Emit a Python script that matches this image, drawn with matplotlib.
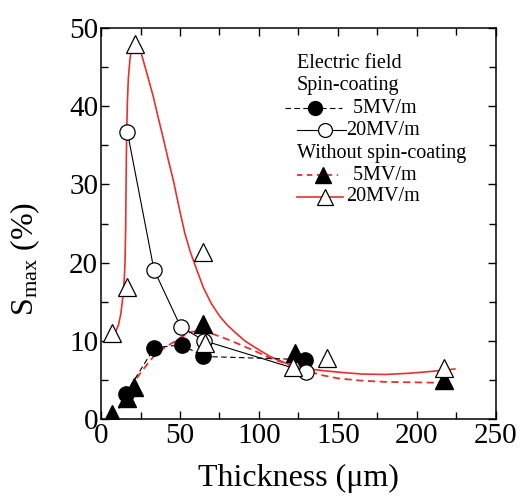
import matplotlib
matplotlib.use("Agg")
import matplotlib.pyplot as plt
from matplotlib.ticker import MultipleLocator

plt.rcParams['font.family'] = ['Liberation Serif', 'DejaVu Serif']
plt.rcParams['mathtext.fontset'] = 'custom'
plt.rcParams['mathtext.rm'] = 'Liberation Serif'
plt.rcParams['mathtext.it'] = 'Liberation Serif:italic'

# ---- data ----
sc5_x = [15.5, 33.7, 51.1, 64.8, 129]
sc5_y = [3.2, 9.1, 9.5, 8.0, 7.6]
sc20_x = [16.7, 33.5, 50.4, 65.5, 130]
sc20_y = [36.7, 19.1, 11.8, 10.0, 6.0]
wo5_x = [6.8, 16.5, 21, 64.8, 122.5, 217]
wo5_y = [0.6, 2.7, 4.1, 12.2, 8.4, 5.0]
wo20_x = [6.8, 16.7, 21.5, 64.8, 65.8, 121.5, 143, 217]
wo20_y = [11.0, 16.9, 48.0, 21.4, 9.7, 6.7, 7.8, 6.5]

# fitted curves
fit20_x = [7, 9, 11, 12.5, 14, 14.8, 15.2, 15.6, 16.0, 16.3, 16.7, 17.3, 18.4, 19.4,
           20.5, 21.5, 22.6, 23.6, 25.7, 27.5, 30, 33, 36, 39.4, 42.5, 45.8, 50, 53,
           56.3, 59.5, 64.8, 70, 75.3, 80, 85.9, 91, 96.4, 102, 107, 117.5, 128, 140,
           150, 165, 180, 195, 210, 224]
fit20_y = [11.0, 11.1, 12.0, 13.4, 15.9, 18.2, 20.2, 24.4, 32.9, 37.2, 40.6, 43.6,
           46.2, 47.3, 47.8, 47.9, 47.9, 47.7, 46.6, 45.3, 43.5, 41.3, 38.7, 35.9,
           33.2, 30.5, 26.5, 23.8, 21.5, 19.7, 16.8, 14.7, 13.1, 12.0, 10.9, 10.0,
           9.3, 8.6, 8.0, 7.1, 6.5, 6.2, 6.0, 5.75, 5.7, 5.85, 6.1, 6.4]
fit5_x = [7, 10, 14, 19, 24.7, 30, 35, 40, 45.8, 51, 56.3, 62, 69, 77.4, 85.9,
          98.5, 107, 119.6, 128, 140, 150, 165, 180, 195, 210, 217]
fit5_y = [0.1, 0.9, 2.4, 4.2, 5.8, 7.2, 8.4, 9.1, 9.8, 10.5, 11.1, 11.3, 11.0,
          10.4, 9.7, 8.6, 7.8, 6.9, 6.3, 5.6, 5.2, 4.9, 4.75, 4.7, 4.65, 4.65]

legend_labels = ["Electric field", "Spin-coating", " 5MV/m", "20MV/m",
                 "Without spin-coating", " 5MV/m", "20MV/m"]

RED = '#e8302c'

fig = plt.figure(figsize=(5.21, 4.96), dpi=100)
ax = fig.add_axes([0.1939, 0.1552, 0.758, 0.7883])

# lines
ax.plot(fit20_x, fit20_y, color=RED, lw=1.2, zorder=2, solid_joinstyle='round')
ax.plot(fit5_x, fit5_y, color=RED, lw=1.3, ls=(0, (4, 2.5)), zorder=2)
ax.plot(sc20_x, sc20_y, color='black', lw=0.8, zorder=2)
ax.plot(sc5_x, sc5_y, color='black', lw=0.8, ls=(0, (5, 3)), zorder=2)

# markers
ax.plot(sc5_x, sc5_y, ls='none', marker='o', ms=11, mfc='black', mec='black', zorder=3)
ax.plot(sc20_x, sc20_y, ls='none', marker='o', ms=11, mfc='white', mec='black', mew=0.9, zorder=3)
ax.plot(wo5_x, wo5_y, ls='none', marker='^', ms=13, mfc='black', mec='black', zorder=4)
ax.plot(wo20_x, wo20_y, ls='none', marker='^', ms=13, mfc='white', mec='black', mew=0.9, zorder=4)

ax.set_xlim(0, 250)
ax.set_ylim(0, 50)
ax.xaxis.set_major_locator(MultipleLocator(50))
ax.xaxis.set_minor_locator(MultipleLocator(25))
ax.yaxis.set_major_locator(MultipleLocator(10))
ax.yaxis.set_minor_locator(MultipleLocator(5))
ax.tick_params(which='both', direction='in', top=True, right=True, width=1.0)
ax.tick_params(which='major', length=6)
ax.tick_params(which='minor', length=5)
ax.tick_params(axis='x', labelsize=21, pad=3)
ax.tick_params(axis='y', labelsize=21, pad=2)
for s in ax.spines.values():
    s.set_linewidth(1.1)

ax.set_xlabel('Thickness (\u03bcm)', fontsize=23)
ax.xaxis.set_label_coords(0.5, -0.115)
ax.set_ylabel(r'S$_{\mathrm{max}}$ (%)', fontsize=23)
ax.yaxis.set_label_coords(-0.15, 0.41)

# legend (manual)
rows_y = [0.910, 0.854, 0.795, 0.739, 0.680, 0.624, 0.569]
fs = 14.5
tr = ax.transAxes
ax.text(0.495, rows_y[0], legend_labels[0], transform=tr, fontsize=fs, va='center', ha='left')
ax.text(0.495, rows_y[1], legend_labels[1], transform=tr, fontsize=fs, va='center', ha='left')
ax.plot([0.466, 0.610], [rows_y[2]] * 2, transform=tr, color='black', lw=0.8, ls=(0, (5, 3)))
ax.plot([0.542], [rows_y[2]], transform=tr, marker='o', ms=10, mfc='black', mec='black')
ax.text(0.625, rows_y[2], legend_labels[2], transform=tr, fontsize=fs, va='center', ha='left')
ax.plot([0.495, 0.620], [rows_y[3]] * 2, transform=tr, color='black', lw=0.8)
ax.plot([0.567], [rows_y[3]], transform=tr, marker='o', ms=10, mfc='white', mec='black', mew=0.9)
ax.text(0.620, rows_y[3], legend_labels[3], transform=tr, fontsize=fs, va='center', ha='left')
ax.text(0.495, rows_y[4], legend_labels[4], transform=tr, fontsize=fs, va='center', ha='left')
ax.plot([0.495, 0.600], [rows_y[5]] * 2, transform=tr, color=RED, lw=1.3, ls=(0, (3, 2.5)))
ax.plot([0.563], [rows_y[5]], transform=tr, marker='^', ms=12, mfc='black', mec='black')
ax.text(0.625, rows_y[5], legend_labels[5], transform=tr, fontsize=fs, va='center', ha='left')
ax.plot([0.495, 0.612], [rows_y[6]] * 2, transform=tr, color=RED, lw=1.2)
ax.plot([0.567], [rows_y[6]], transform=tr, marker='^', ms=12, mfc='white', mec='black', mew=0.9)
ax.text(0.620, rows_y[6], legend_labels[6], transform=tr, fontsize=fs, va='center', ha='left')

fig.savefig('out.png', dpi=100)
